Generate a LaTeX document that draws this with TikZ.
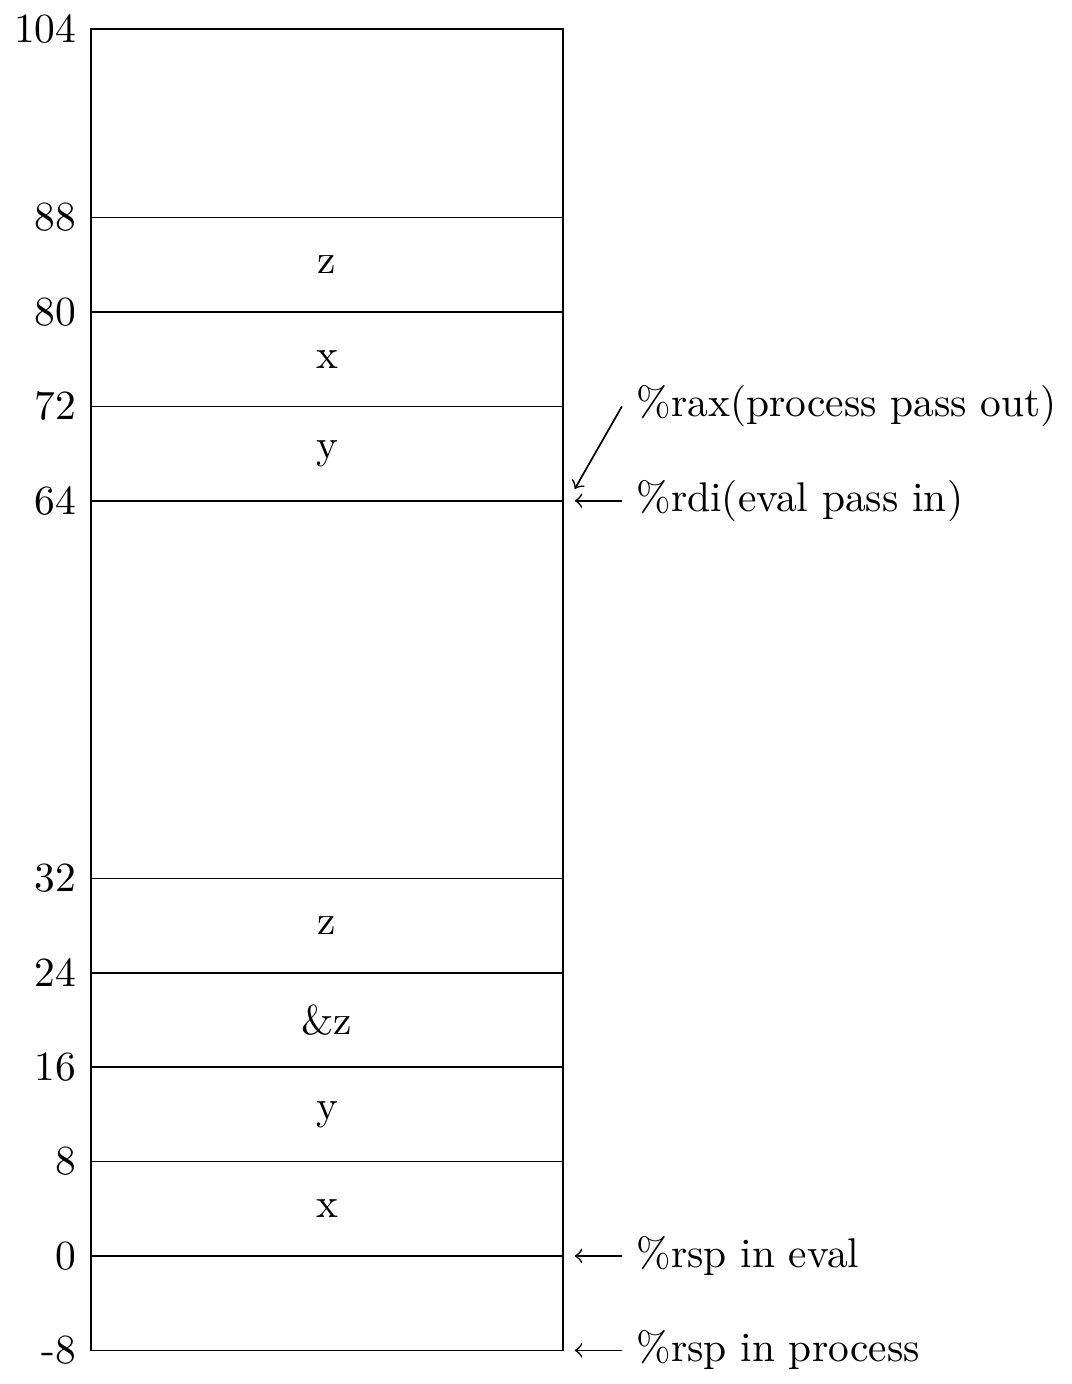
\documentclass[tikz,border=0pt]{standalone}
\usepackage{tikz}
\usetikzlibrary{arrows,shapes}

\begin{document}
\begin{tikzpicture}[y=0.1cm]
        \useasboundingbox (-0.771,-10.85) rectangle (8.314,106.44);
        %\draw[help lines] (0,-8) grid (4,104);
        \draw (0,-8) rectangle (4,104);
        \foreach \a in {88,80,72,64,32,24,16,8,0}
            \draw (0,\a) -- (4,\a);
        \foreach \a in {104,88,80,72,64,32,24,16,8,0,-8}
            \node[left] (lbl\a) at (0,\a) {\a};
        \foreach \a/\t in {84/z,76/x,68/y,28/z,20/\&z,12/y,4/x}
            \node (cell\a) at (2,\a) {\t};
        \coordinate (in64) at (4.1,64);
        \coordinate (out65) at (4.1,65);
        \coordinate (in0) at (4.1,0);
        \coordinate (in-8) at (4.1,-8);
        \node[right] (rax) at (4.5,72) {\%rax(process pass out)};
        \node[right] (rdi) at (4.5,64) {\%rdi(eval pass in)};
        \node[right] (rspe) at (4.5,0) {\%rsp in eval};
        \node[right] (rspp) at (4.5,-8) {\%rsp in process};
        \draw[->] (rax.west) -- (out65);
        \draw[->] (rdi.west) -- (in64);
        \draw[->] (rspe.west) -- (in0);
        \draw[->] (rspp.west) -- (in-8);
    \end{tikzpicture}
\end{document}
